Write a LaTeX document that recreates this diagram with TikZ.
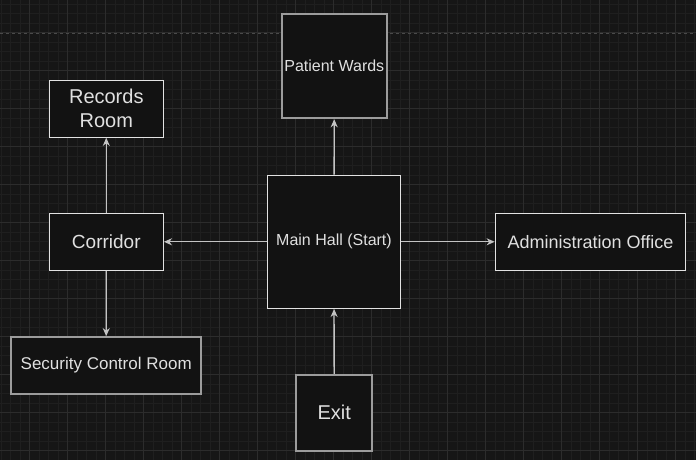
\documentclass[tikz,border=0pt]{standalone}
\usepackage{fontspec}
\setmainfont{Liberation Sans}
\usetikzlibrary{arrows.meta}
\definecolor{bgc}{HTML}{161616}
\definecolor{minorc}{HTML}{1F1F1F}
\definecolor{majorc}{HTML}{2C2C2C}
\definecolor{fillc}{HTML}{121212}
\definecolor{brightc}{HTML}{E2E2E2}
\definecolor{grayc}{HTML}{9C9C9C}
\definecolor{linec}{HTML}{C4C4C4}
\definecolor{textc}{HTML}{E0E0E0}
\definecolor{pagec}{HTML}{4A4A4A}
\tikzset{
  minorline/.style={draw=minorc, line width=0.8pt},
  majorline/.style={draw=majorc, line width=1pt},
  room/.style={rectangle, fill=fillc, draw=brightc, line width=1.3pt, inner sep=0pt, align=center, text=textc},
  dimroom/.style={room, draw=grayc, line width=1.8pt},
  big/.style={font=\fontsize{20}{24}\selectfont},
  mid/.style={font=\fontsize{18}{21.6}\selectfont},
  small/.style={font=\fontsize{16}{19.2}\selectfont},
  conn/.style={draw=linec, line width=1.3pt, -{Stealth[length=8pt, width=7pt, inset=2.5pt]}}
}
\begin{document}
\begin{tikzpicture}[x=1pt,y=-1pt]
\fill[bgc] (0,0) rectangle (696,460);
\useasboundingbox (0,0) rectangle (696,460);
% grid
\foreach \i in {0,...,73} { \draw[minorline] ({1+9.5*\i},0) -- ++(0,460); }
\foreach \j in {0,...,48} { \draw[minorline] (0,{4.2+9.5*\j}) -- ++(696,0); }
\foreach \i in {0,...,18} { \draw[majorline] ({29.5+38*\i},0) -- ++(0,460); }
\foreach \j in {0,...,12} { \draw[majorline] (0,{-5.3+38*\j}) -- ++(696,0); }
% page break line
\coordinate (pl) at (0,33.3);
\coordinate (pr) at (696,33.3);
\draw[pagec, line width=1pt, dash pattern=on 3pt off 3pt] (pl) -- (pr);
% rooms
\node[room, big, minimum width=114pt, minimum height=57pt] (rec) at (106.3,108.7) {Records\\Room};
\node[room, font=\fontsize{19}{23}\selectfont, minimum width=114pt, minimum height=57pt] (corr) at (106.3,241.8) {Corridor};
\node[dimroom, small, minimum width=104.7pt, minimum height=104.3pt] (wards) at (334.3,66.2) {Patient Wards};
\node[room, small, minimum width=133.3pt, minimum height=133pt] (hall) at (334,241.8) {Main Hall (Start)};
\node[room, mid, minimum width=190.4pt, minimum height=57pt] (admin) at (590.5,241.8) {Administration Office};
\node[dimroom, font=\fontsize{17}{20.4}\selectfont, minimum width=190.3pt, minimum height=57pt] (sec) at (106.2,365.5) {Security Control Room};
\node[dimroom, big, minimum width=76.3pt, minimum height=76pt] (exit) at (334.2,412.7) {Exit};
% connectors
\draw[conn] (hall) -- (wards);
\draw[conn] (corr) -- (rec);
\draw[conn] (hall) -- (corr);
\draw[conn] (hall) -- (admin);
\draw[conn] (corr) -- (sec);
\draw[conn] (exit) -- (hall);
\end{tikzpicture}
\end{document}
